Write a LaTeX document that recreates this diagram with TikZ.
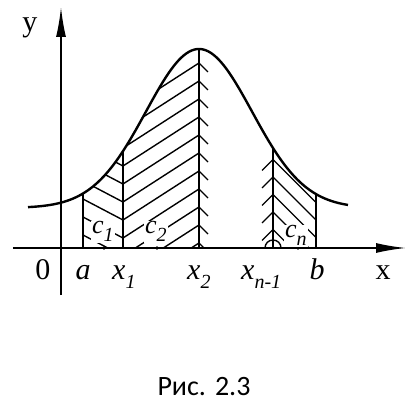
\documentclass[tikz,border=0pt]{standalone}
\usepackage{fontspec}
\setmainfont{Liberation Serif}
\newfontfamily\capfont{Carlito}
\usetikzlibrary{arrows.meta}
\newcommand{\lowidx}[1]{\raisebox{-0.3em}{\fontsize{20}{20}\selectfont\textit{#1}}}

\begin{document}
\begin{tikzpicture}[x=1pt,y=1pt,
		declare function={f(\t)=40+159*exp(-0.5*((\t-138)/53)^2);},
		axis/.style={line width=1.8pt,-{Latex[length=30pt,width=10pt]}},
		curve/.style={line width=2.4pt},
		edge/.style={line width=1.8pt},
		hatch/.style={line width=1.4pt},
		lbl/.style={font=\fontsize{30}{34}\selectfont,inner sep=0pt},
		clbl/.style={font=\fontsize{26}{28}\selectfont,inner sep=1pt,fill=white}]
	\useasboundingbox (-61,-153) rectangle (345,248);
	
	% Ejes
	\draw[axis] (-48,0) -- (345,0);
	\draw[axis] (0,-47) -- (0,241);
	
	% Rayado de las franjas
	\begin{scope}
		\clip (-61,0) rectangle (345,248);
		\begin{scope}
			\clip (22,0) -- plot[domain=22:62,samples=20] (\x,{f(\x)}) -- (62,0) -- cycle;
			\foreach \k in {0,...,9}
				\draw[hatch] (62,{\k*18-44}) -- (22,{\k*18-23});
		\end{scope}
		\begin{scope}
			\clip (62,0) -- plot[domain=62:138,samples=30] (\x,{f(\x)}) -- (138,0) -- cycle;
			\foreach \k in {0,...,11}
				\draw[hatch] (138,{5+\k*18}) -- (62,{\k*18-44});
		\end{scope}
		\foreach \k in {0,...,10}
			\draw[hatch] (138,{5+\k*18}) -- ++(9,-9);
		\begin{scope}
			\clip (212,0) -- plot[domain=212:255,samples=20] (\x,{f(\x)}) -- (255,0) -- cycle;
			\foreach \k in {0,...,5}
				\draw[hatch] (212,{1+\k*17.5}) -- ++(50,-50);
		\end{scope}
		\foreach \k in {1,...,5}
			\draw[hatch] (212,{1+\k*17.5}) -- ++(-11,-11);
		\draw[hatch] (204,0) arc (180:0:8);
	\end{scope}
	
	% Rectas verticales
	\foreach \p in {22,62,138,212,255}
		\draw[edge] (\p,0) -- (\p,{f(\p)});
	
	% Curva
	\draw[curve] plot[domain=-33:287,samples=120,smooth] (\x,{f(\x)});
	
	% Puntos c_i
	\foreach \p in {43,96,237}
		\fill (\p,0) circle (1.9);
	
	% Etiquetas
	\node[lbl,anchor=base] (ylab) at (-31,216) {y};
	\node[lbl,anchor=base] (zero) at (-18,-31) {0};
	\node[lbl,anchor=base] (alab) at (22,-31) {\textit{a}};
	\node[lbl,anchor=base west] (xone) at (51,-31) {\textit{x}\lowidx{1}};
	\node[lbl,anchor=base west] (xtwo) at (126,-31) {\textit{x}\lowidx{2}};
	\node[lbl,anchor=base west] (xnm) at (180,-31) {\textit{x}\lowidx{n-1}};
	\node[lbl,anchor=base] (blab) at (256,-31) {\textit{b}};
	\node[lbl,anchor=base] (xlab) at (322,-31) {x};
	\node[clbl,anchor=base west] (cone) at (30,14) {\textit{c}\lowidx{1}};
	\node[clbl,anchor=base west] (ctwo) at (83,14) {\textit{c}\lowidx{2}};
	\node[clbl,anchor=base west] (cn) at (223,10) {\textit{c}\lowidx{n}};
	
	% Pie de figura
	\node[font=\capfont\fontsize{28}{32}\selectfont,anchor=base] (cap) at (143,-147) {Рис.\hspace{9pt}2.3};
\end{tikzpicture}
\end{document}
